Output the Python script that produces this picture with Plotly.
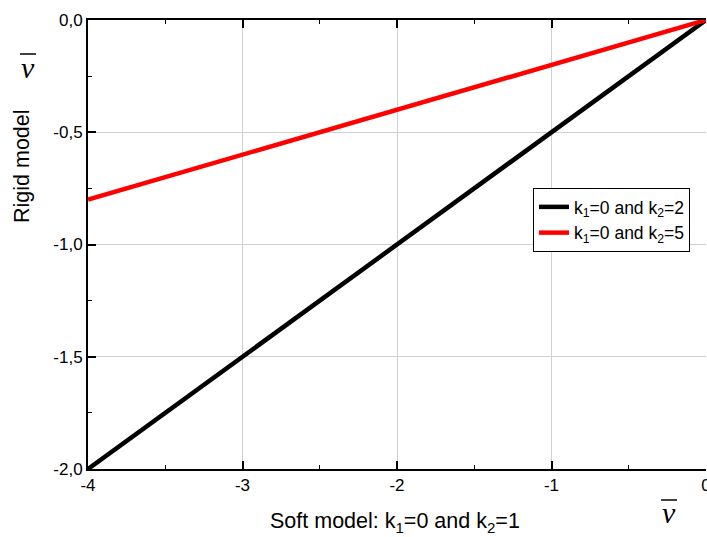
import plotly.graph_objects as go

x_vals = [-4, 0]
y_k2_2 = [-2.0, 0.0]
y_k2_5 = [-0.8, 0.0]
series_names = ["k<sub>1</sub>=0 and k<sub>2</sub>=2", "k<sub>1</sub>=0 and k<sub>2</sub>=5"]
x_ticks = [-4, -3, -2, -1, 0]
x_ticktext = ["-4", "-3", "-2", "-1", "0"]
y_ticks = [-2.0, -1.5, -1.0, -0.5, 0.0]
y_ticktext = ["-2,0", "-1,5", "-1,0", "-0,5", "0,0"]

W, H = 707, 537
L, R, T, B = 88, 1, 20, 68
pw, ph = W - L - R, H - T - B

def px(x):
    return (x - L) / pw

def py(y):
    return 1 - (y - T) / ph

fig = go.Figure()
fig.add_trace(go.Scatter(x=x_vals, y=y_k2_2, mode="lines", name=series_names[0],
                         line=dict(color="black", width=4.5)))
fig.add_trace(go.Scatter(x=x_vals, y=y_k2_5, mode="lines", name=series_names[1],
                         line=dict(color="#ff0000", width=4.5)))

fam = "Liberation Sans, Arial, sans-serif"
axis_font = dict(family=fam, size=17, color="black")
fig.update_layout(
    width=W, height=H,
    margin=dict(l=L, r=R, t=T, b=B, autoexpand=False),
    plot_bgcolor="white", paper_bgcolor="white",
    font=axis_font,
    showlegend=True,
    legend=dict(x=px(533), y=py(188), xanchor="left", yanchor="top",
                bordercolor="black", borderwidth=1, bgcolor="white",
                font=dict(family=fam, size=17.5, color="black"),
                tracegroupgap=0, itemwidth=30),
    xaxis=dict(range=[-4, 0], tickvals=x_ticks, ticktext=x_ticktext,
               showline=True, linecolor="black", linewidth=2, mirror="ticks",
               ticks="inside", ticklen=8, tickwidth=2, tickcolor="black",
               showgrid=True, gridcolor="#d0d0d0", gridwidth=1, zeroline=False,
               ticklabeloverflow="allow", automargin=False,
               minor=dict(tickvals=[-3.5, -2.5, -1.5, -0.5], ticks="inside", ticklen=4,
                          tickwidth=1, tickcolor="black", showgrid=False),
               tickfont=axis_font),
    yaxis=dict(range=[-2, 0], tickvals=y_ticks, ticktext=y_ticktext,
               showline=True, linecolor="black", linewidth=2, mirror=False,
               ticks="inside", ticklen=8, tickwidth=2, tickcolor="black",
               showgrid=True, gridcolor="#d0d0d0", gridwidth=1, zeroline=False,
               ticklabeloverflow="allow", automargin=False,
               minor=dict(tickvals=[-1.75, -1.25, -0.75, -0.25], ticks="inside", ticklen=4,
                          tickwidth=1, tickcolor="black", showgrid=False),
               tickfont=axis_font),
)

ann_font = dict(family=fam, size=21.5, color="black")
serif = dict(family="Liberation Serif, Times New Roman, serif", size=30, color="black")
fig.add_annotation(xref="paper", yref="paper", x=px(395), y=py(522),
                   text="Soft model: k<sub>1</sub>=0 and k<sub>2</sub>=1",
                   showarrow=False, font=ann_font, xanchor="center", yanchor="middle")
fig.add_annotation(xref="paper", yref="paper", x=px(22), y=py(166),
                   text="Rigid model", textangle=-90,
                   showarrow=False, font=ann_font, xanchor="center", yanchor="middle")
fig.add_annotation(xref="paper", yref="paper", x=px(669), y=py(512),
                   text="<i>v</i>", showarrow=False, font=serif,
                   xanchor="center", yanchor="middle")
fig.add_annotation(xref="paper", yref="paper", x=px(28), y=py(67),
                   text="<i>v</i>", showarrow=False, font=serif,
                   xanchor="center", yanchor="middle")
fig.add_shape(type="line", xref="paper", yref="paper",
              x0=px(661), x1=px(677), y0=py(500), y1=py(500),
              line=dict(color="black", width=1.5))
fig.add_shape(type="line", xref="paper", yref="paper",
              x0=px(20), x1=px(36), y0=py(54), y1=py(54),
              line=dict(color="black", width=1.5))

fig.write_html("out.html")
